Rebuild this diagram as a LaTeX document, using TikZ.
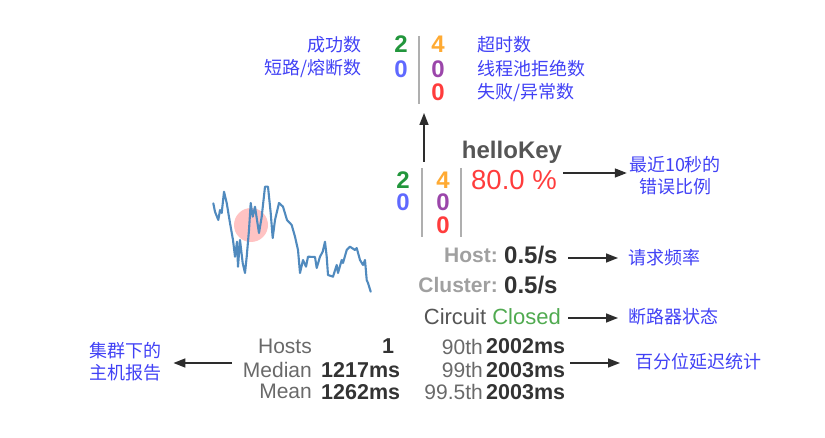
\documentclass[tikz,border=0pt]{standalone}
\usepackage{fontspec}
\setmainfont{Liberation Sans}
\newfontfamily\cjk{Noto Sans CJK SC}
\usetikzlibrary{arrows.meta}
\definecolor{lblblue}{RGB}{65,65,245}
\definecolor{cgreen}{RGB}{34,150,60}
\definecolor{cblue}{RGB}{95,105,255}
\definecolor{corange}{RGB}{255,170,50}
\definecolor{cpurple}{RGB}{155,70,170}
\definecolor{cred}{RGB}{255,60,60}
\definecolor{sepgray}{RGB}{175,175,175}
\definecolor{arrgray}{RGB}{45,45,45}
\definecolor{lightlbl}{RGB}{160,160,160}
\definecolor{darkval}{RGB}{51,51,51}
\definecolor{midlbl}{RGB}{105,105,105}
\definecolor{keygray}{RGB}{85,85,85}
\definecolor{closedgreen}{RGB}{80,170,80}
\definecolor{spark}{RGB}{80,138,190}
\definecolor{pinkc}{RGB}{255,195,195}
\tikzset{
  zh/.style={font=\cjk\fontsize{18}{22}\selectfont, text=lblblue, inner sep=0pt},
  cnt/.style={font=\bfseries\fontsize{24}{24}\selectfont, inner sep=0pt},
  sepline/.style={draw=sepgray, line width=2pt},
  arr/.style={-{Triangle[length=12pt,width=9pt]}, line width=1.5pt, draw=arrgray},
  ratelbl/.style={font=\bfseries\fontsize{21}{21}\selectfont, text=lightlbl, inner sep=0pt},
  rateval/.style={font=\bfseries\fontsize{24}{24}\selectfont, text=darkval, inner sep=0pt},
  tablbl/.style={font=\fontsize{21}{21}\selectfont, text=midlbl, inner sep=0pt},
  tabval/.style={font=\bfseries\fontsize{21.5}{21.5}\selectfont, text=darkval, inner sep=0pt},
}
\begin{document}
\begin{tikzpicture}[x=1pt,y=-1pt]
\useasboundingbox (0,0) rectangle (825,438);

% ---- top legend group ----
\node[zh, anchor=east] (lsucc) at (362,45) {成功数};
\node[zh, anchor=east] (lshort) at (362,69) {短路/熔断数};
\node[cnt, text=cgreen] (tg) at (401,44.5) {2};
\node[cnt, text=cblue] (tb) at (401,69) {0};
\draw[sepline] (419,36) -- (419,104);
\node[cnt, text=corange] (to) at (438,44.5) {4};
\node[cnt, text=cpurple] (tp) at (438,69) {0};
\node[cnt, text=cred] (tr) at (438,92.5) {0};
\node[zh, anchor=west] (ltime) at (477,45) {超时数};
\node[zh, anchor=west] (lrej) at (477,69) {线程池拒绝数};
\node[zh, anchor=west] (lfail) at (477,93) {失败/异常数};

\coordinate (vs) at (424,162);
\coordinate (ve) at (424,113);
\draw[arr] (vs) -- (ve);

% ---- circuit widget ----
\node[font=\bfseries\fontsize{24}{24}\selectfont, text=keygray, inner sep=0pt] (key) at (512,152) {helloKey};
\node[cnt, text=cgreen] (g2) at (403,180) {2};
\node[cnt, text=cblue] (b0) at (403,202) {0};
\draw[sepline] (422,168) -- (422,237);
\node[cnt, text=corange] (o4) at (443,180) {4};
\node[cnt, text=cpurple] (p0) at (443,202) {0};
\node[cnt, text=cred] (r0) at (443,225) {0};
\draw[sepline] (461,168) -- (461,237);
\node[font=\fontsize{27.5}{27.5}\selectfont, text=cred, inner sep=0pt, anchor=west] (pct) at (471,180) {80.0 \%};

\node[zh, align=center] (lerr) at (675,176) {\fontsize{18}{24}\selectfont 最近10秒的\\错误比例};
\coordinate (es) at (563,173);
\draw[arr] (es) -- (lerr.west |- es) [shorten >=2pt];

% sparkline
\fill[pinkc] (251,225) circle[radius=17];
\draw[spark, line width=2.1pt, line join=round, line cap=round]
 (213.3,203.3) -- (215,211.7) -- (218.3,220) -- (220,210) -- (221.7,213) -- (224,191.7)
 -- (226.7,203) -- (230,223) -- (233,240) -- (235,256.7) -- (237,241.7) -- (238,266.7)
 -- (240,240) -- (242.7,263) -- (245,273) -- (246.7,256.7) -- (249,230) -- (250.7,203)
 -- (252.7,216.7) -- (255,206.7) -- (257,220) -- (259,233) -- (261.7,216.7) -- (265,186.7)
 -- (268,186.7) -- (270.7,213) -- (272.7,238) -- (275,220) -- (279,203) -- (283,206.7)
 -- (287,220) -- (291.7,225) -- (295,236.7) -- (298,250) -- (300,273) -- (303,260)
 -- (306,266.7) -- (308,256.7) -- (315,257) -- (316.7,268) -- (320,256.7) -- (322.7,251.7)
 -- (325,241.7) -- (326.7,256.7) -- (328,275) -- (333,276.7) -- (336.7,265) -- (338,273)
 -- (341.7,260) -- (343,263) -- (346.7,250) -- (350,246.7) -- (355,250) -- (356.7,248)
 -- (360,260) -- (363,265) -- (365,260) -- (366.7,280) -- (368,283) -- (370.7,291.7);

% rates
\node[ratelbl, anchor=east] (hostl) at (498,255.5) {Host:};
\node[rateval, anchor=west] (hostv) at (504,255.5) {0.5/s};
\node[ratelbl, anchor=east] (clul) at (498,285) {Cluster:};
\node[rateval, anchor=west] (cluv) at (504,285) {0.5/s};
\node[font=\fontsize{22}{22}\selectfont, text=keygray, inner sep=0pt, anchor=east] (circ) at (561,316.5) {Circuit \textcolor{closedgreen}{Closed}};

\node[zh, anchor=west] (lreq) at (628,257.3) {请求频率};
\coordinate (hs) at (568,258);
\draw[arr] (hs) -- (lreq.west |- hs) [shorten >=10pt];
\node[zh, anchor=west] (lcb) at (628,316.5) {断路器状态};
\coordinate (cs) at (568,318);
\draw[arr] (cs) -- (lcb.west |- cs) [shorten >=10pt];

% table
\node[tablbl, anchor=east] (h1) at (312,346.5) {Hosts};
\node[tablbl, anchor=east] (h2) at (312,370) {Median};
\node[tablbl, anchor=east] (h3) at (312,391.7) {Mean};
\node[tabval] (v1) at (388,346.5) {1};
\node[tabval, anchor=west] (v2) at (321,370) {1217ms};
\node[tabval, anchor=west] (v3) at (321,391.7) {1262ms};
\node[tablbl, anchor=east] (p1) at (483,346.5) {90th};
\node[tablbl, anchor=east] (p2) at (483,370) {99th};
\node[tablbl, anchor=east] (p3) at (483,391.7) {99.5th};
\node[tabval, anchor=west] (q1) at (486,346.5) {2002ms};
\node[tabval, anchor=west] (q2) at (486,370) {2003ms};
\node[tabval, anchor=west] (q3) at (486,391.7) {2003ms};

\node[zh, align=left, anchor=west] (lhost) at (89,361.3) {\fontsize{18}{22.5}\selectfont 集群下的\\主机报告};
\coordinate (ls) at (232,363);
\draw[arr] (ls) -- (lhost.east |- ls) [shorten >=12pt];

\node[zh, anchor=west] (lpct) at (635,361.7) {百分位延迟统计};
\coordinate (rs) at (570,363);
\draw[arr] (rs) -- (lpct.west |- rs) [shorten >=15pt];
\end{tikzpicture}
\end{document}
